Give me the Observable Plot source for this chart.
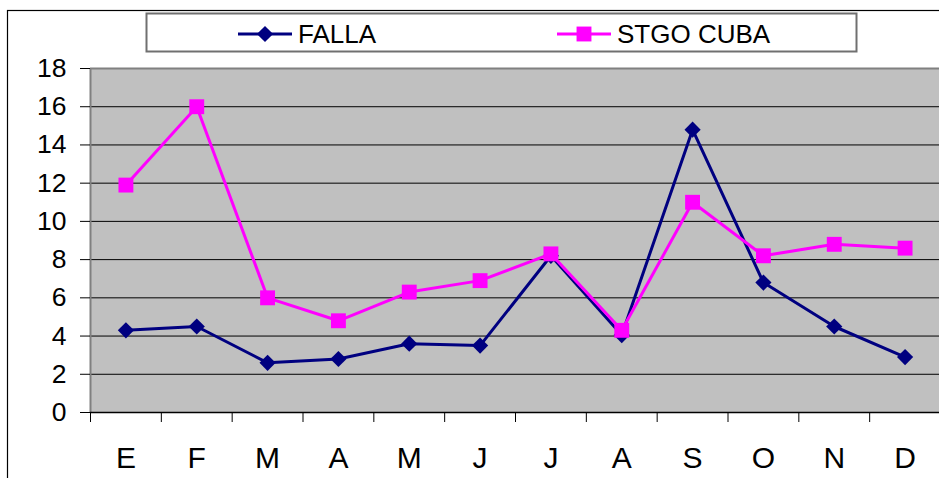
<!DOCTYPE html>
<html>
<head>
<meta charset="utf-8">
<script src="https://cdn.jsdelivr.net/npm/d3@7"></script>
<script src="https://cdn.jsdelivr.net/npm/@observablehq/plot@0.6"></script>
<style>
  html, body { margin: 0; padding: 0; background: #fff; }
  #chart { width: 939px; height: 478px; overflow: hidden; }
</style>
</head>
<body>
<div id="chart"></div>
<script>
const months = ["E", "F", "M", "A", "M", "J", "J", "A", "S", "O", "N", "D"];
const seriesNames = ["FALLA", "STGO CUBA"];
const falla = [4.3, 4.5, 2.6, 2.8, 3.6, 3.5, 8.2, 4.05, 14.8, 6.8, 4.5, 2.9];
const stgoCuba = [11.9, 16.0, 6.0, 4.8, 6.3, 6.9, 8.3, 4.3, 11.0, 8.2, 8.8, 8.6];
const yTicks = [0, 2, 4, 6, 8, 10, 12, 14, 16, 18];
const colors = ["#000080", "#FF00FF"];

const rows = (vals) => vals.map((v, i) => ({i, month: months[i], v}));
const fallaRows = rows(falla);
const stgoRows = rows(stgoCuba);
const centers = months.map((_, i) => i + 0.5);
const bounds = d3.range(months.length + 1);
const font = "'Liberation Sans', Arial, Helvetica, sans-serif";

const chart = Plot.plot({
  width: 939,
  height: 478,
  marginLeft: 90,
  marginRight: 0,
  marginTop: 68,
  marginBottom: 66,
  style: {fontFamily: font, color: "#000", background: "#fff", overflow: "visible"},
  x: {type: "linear", domain: [0, months.length], range: [90, 940], axis: null, label: null},
  y: {domain: [0, 18], axis: null, label: null},
  marks: [
    Plot.frame({fill: "#C0C0C0", stroke: "none"}),
    Plot.ruleY(yTicks.filter(t => t > 0 && t < 18), {stroke: "#000", strokeWidth: 1}),
    Plot.ruleY([18], {stroke: "#808080", strokeWidth: 2}),
    Plot.ruleX([0], {stroke: "#808080", strokeWidth: 2}),
    Plot.ruleY([0], {stroke: "#000", strokeWidth: 1.5}),
    Plot.axisY({ticks: yTicks, tickSize: 10, tickPadding: 14, fontSize: 26.5, stroke: "#000", label: null}),
    Plot.axisX({ticks: bounds, tickSize: 10, tickFormat: () => "", stroke: "#000", label: null}),
    Plot.axisX({ticks: centers, tickSize: 0, tickPadding: 34, fontSize: 30, label: null,
      tickFormat: d => months[Math.floor(d)]}),
    Plot.line(fallaRows, {x: d => d.i + 0.5, y: "v", stroke: colors[0], strokeWidth: 3}),
    Plot.dot(fallaRows, {x: d => d.i + 0.5, y: "v", symbol: "diamond2", r: 7.3, fill: colors[0], stroke: "none"}),
    Plot.line(stgoRows, {x: d => d.i + 0.5, y: "v", stroke: colors[1], strokeWidth: 3}),
    Plot.dot(stgoRows, {x: d => d.i + 0.5, y: "v", symbol: "square", r: 8.4, fill: colors[1], stroke: "none"})
  ]
});

document.getElementById("chart").appendChild(chart);

// decorations: outer chart border and legend
const svg = d3.select(chart);
svg.append("rect")
  .attr("x", 7.5).attr("y", 10.5).attr("width", 1200).attr("height", 1200)
  .attr("fill", "none").attr("stroke", "#000").attr("stroke-width", 1.2);

const lg = svg.append("g");
lg.append("rect")
  .attr("x", 146.5).attr("y", 13.5).attr("width", 710).attr("height", 38)
  .attr("fill", "#fff").attr("stroke", "#707070").attr("stroke-width", 2);

const legendItems = [
  {name: seriesNames[0], color: colors[0], x0: 238, symbol: d3.symbolDiamond2, size: Math.PI * 7.3 * 7.3},
  {name: seriesNames[1], color: colors[1], x0: 557, symbol: d3.symbolSquare, size: Math.PI * 8.4 * 8.4}
];
for (const it of legendItems) {
  lg.append("line")
    .attr("x1", it.x0).attr("x2", it.x0 + 54).attr("y1", 34).attr("y2", 34)
    .attr("stroke", it.color).attr("stroke-width", 3);
  lg.append("path")
    .attr("d", d3.symbol(it.symbol, it.size)())
    .attr("transform", `translate(${it.x0 + 27},34)`)
    .attr("fill", it.color);
  lg.append("text")
    .attr("x", it.x0 + 60).attr("y", 43)
    .attr("text-anchor", "start")
    .attr("font-family", font).attr("font-size", 26).attr("fill", "#000")
    .text(it.name);
}
</script>
</body>
</html>
